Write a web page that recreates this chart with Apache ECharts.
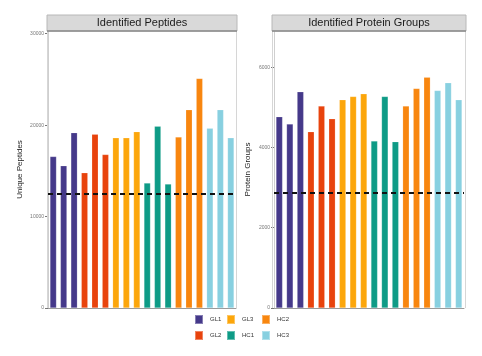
<!DOCTYPE html>
<html>
<head>
<meta charset="utf-8">
<script src="https://cdn.jsdelivr.net/npm/echarts@6/dist/echarts.min.js"></script>
<style>
html,body{margin:0;padding:0;background:#fff;}
#chart{width:482px;height:356px;}
</style>
</head>
<body>
<div id="chart"></div>
<script>
// ---- data ----
var samples = ['GL1-1','GL1-2','GL1-3','GL2-1','GL2-2','GL2-3','GL3-1','GL3-2','GL3-3',
               'HC1-1','HC1-2','HC1-3','HC2-1','HC2-2','HC2-3','HC3-1','HC3-2','HC3-3'];
var sampleGroup = ['GL1','GL1','GL1','GL2','GL2','GL2','GL3','GL3','GL3',
                   'HC1','HC1','HC1','HC2','HC2','HC2','HC3','HC3','HC3'];
var groups = ['GL1','GL2','GL3','HC1','HC2','HC3'];
var groupColors = ['#45398a','#e8430d','#fca60b','#0e9b86','#f8860f','#88d0e0'];
var uniquePeptides = [16570,15560,19180,14790,19010,16790,18610,18610,19290,
                      13670,19880,13560,18710,21690,25110,19660,21690,18610];
var proteinGroups = [4764,4582,5386,4391,5030,4714,5187,5269,5336,
                     4159,5269,4142,5030,5468,5751,5418,5610,5187];
var peptideThreshold = 12540;
var proteinThreshold = 2880;
var peptideTicks = [0,10000,20000,30000];
var proteinTicks = [0,2000,4000,6000];
var panelTitles = ['Identified Peptides','Identified Protein Groups'];
var axisTitles = ['Unique Peptides','Protein Groups'];

// ---- chart ----
var chart = echarts.init(document.getElementById('chart'), null, {renderer:'canvas'});
var FONT = '"Liberation Sans", Arial, sans-serif';

var grids = [
  {left:48, top:31, width:188, height:277},
  {left:274, top:31, width:190, height:277}
];
var strips = [
  {x:47, w:190},
  {x:272, w:194}
];
var nameGaps = [24, 22];

function makeYAxis(i, ticks, max){
  return {
    type:'value', gridIndex:i, min:0, max:max, interval:ticks[1]-ticks[0],
    name: axisTitles[i], nameLocation:'middle', nameGap:nameGaps[i],
    nameTextStyle:{fontFamily:FONT, fontSize:8, color:'#222'},
    axisLine:{show:true, lineStyle:{color:'#cfcfcf', width:1}},
    axisTick:{show:true, length:3, lineStyle:{color:'#777'}, customValues:ticks},
    axisLabel:{fontFamily:FONT, fontSize:5, color:'#777', margin:4, customValues:ticks,
      formatter:function(v){ return String(v); }},
    splitLine:{show:false}
  };
}
function makeXAxis(i){
  return {
    type:'category', gridIndex:i, data:samples,
    axisLine:{show:true, lineStyle:{color:'#9a9a9a', width:1}},
    axisTick:{show:false}, axisLabel:{show:false}, splitLine:{show:false}
  };
}

var series = [];
[uniquePeptides, proteinGroups].forEach(function(vals, gi){
  groups.forEach(function(g, k){
    series.push({
      name:g, type:'bar', xAxisIndex:gi, yAxisIndex:gi, stack:'p'+gi,
      barWidth:'62%',
      itemStyle:{color:groupColors[k], borderColor:'rgba(255,255,255,0.35)', borderWidth:0.5},
      data: vals.map(function(v, idx){ return sampleGroup[idx]===g ? v : '-'; }),
      silent:true, animation:false
    });
  });
  series.push({
    type:'line', xAxisIndex:gi, yAxisIndex:gi, data:[], silent:true, animation:false,
    markLine:{
      symbol:['none','none'], silent:true, animation:false,
      label:{show:false},
      lineStyle:{type:[5,4], color:'#111', width:2},
      data:[{yAxis: gi===0 ? peptideThreshold : proteinThreshold}]
    }
  });
});

var graphics = [];
strips.forEach(function(s, i){
  graphics.push({type:'rect', shape:{x:s.x, y:15, width:s.w, height:16},
    style:{fill:'#d9d9d9', stroke:'#b8b8b8', lineWidth:1}, z:10});
  graphics.push({type:'line', shape:{x1:s.x, y1:31, x2:s.x+s.w, y2:31},
    style:{stroke:'#8a8a8a', lineWidth:1.5}, z:11});
  graphics.push({type:'line', shape:{x1:s.x+0.5, y1:31, x2:s.x+0.5, y2:308},
    style:{stroke:'#d6d6d6', lineWidth:1}, z:1});
  graphics.push({type:'line', shape:{x1:s.x+s.w-0.5, y1:31, x2:s.x+s.w-0.5, y2:308},
    style:{stroke:'#d6d6d6', lineWidth:1}, z:1});
  graphics.push({type:'text', x:s.x+s.w/2, y:23, z:12,
    style:{text:panelTitles[i], fill:'#1a1a1a', font:'11px '+FONT, textAlign:'center', textVerticalAlign:'middle'}});
});

function legendCol(names, left){
  return {
    orient:'vertical', left:left, top:309, data:names,
    icon:'rect', itemWidth:8, itemHeight:9, itemGap:5,
    textStyle:{fontFamily:FONT, fontSize:6, color:'#333', padding:[0,0,0,2]},
    selectedMode:false
  };
}

chart.setOption({
  backgroundColor:'#ffffff',
  animation:false,
  grid:grids,
  xAxis:[makeXAxis(0), makeXAxis(1)],
  yAxis:[makeYAxis(0, peptideTicks, 30300), makeYAxis(1, proteinTicks, 6900)],
  legend:[legendCol(['GL1','GL2'],189), legendCol(['GL3','HC1'],221), legendCol(['HC2','HC3'],256)],
  series:series,
  graphic:graphics
});
</script>
</body>
</html>
